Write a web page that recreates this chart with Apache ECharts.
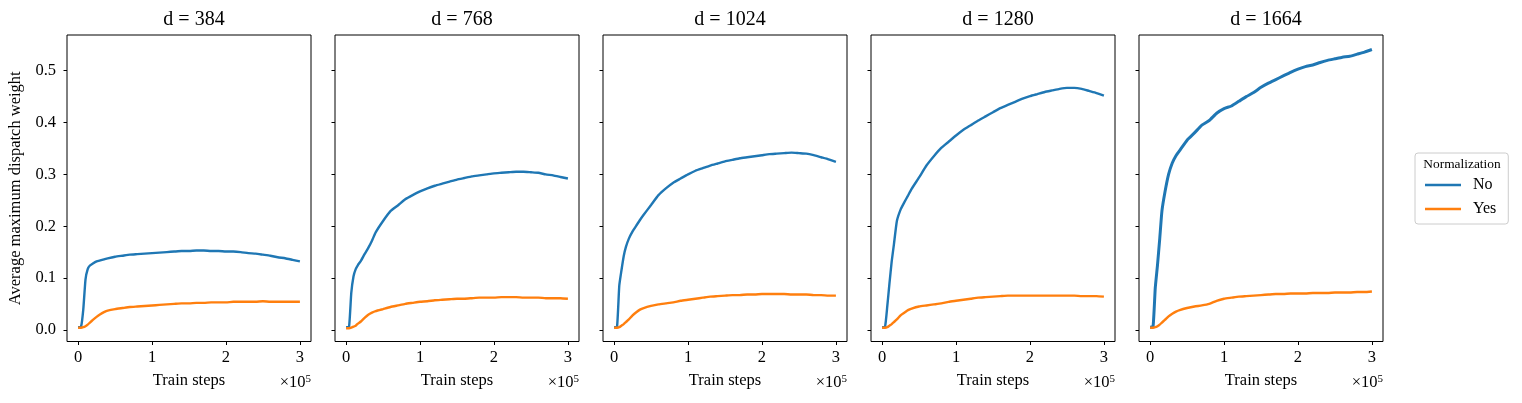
<!DOCTYPE html>
<html><head><meta charset="utf-8">
<script src="https://cdn.jsdelivr.net/npm/echarts@6/dist/echarts.min.js"></script>
<style>html,body{margin:0;padding:0;background:#fff}#c{width:1522px;height:403px}</style>
</head><body><div id="c"></div>
<script>
// Panel titles
const panelTitles = ['d = 384', 'd = 768', 'd = 1024', 'd = 1280', 'd = 1664'];
const seriesNames = ['No', 'Yes'];
// Train steps (in units of 1e5)
const steps = [0, 0.04, 0.07, 0.1, 0.13, 0.16, 0.2, 0.25, 0.3, 0.35, 0.4, 0.5, 0.6, 0.7, 0.8, 0.9, 1.0,
  1.1, 1.2, 1.3, 1.4, 1.5, 1.6, 1.7, 1.8, 1.9, 2.0, 2.1, 2.2, 2.3, 2.4, 2.5, 2.6, 2.7, 2.8, 2.9, 3.0];
const xTicks = [0, 1, 2, 3];
const yTicks = [0, 0.1, 0.2, 0.3, 0.4, 0.5];

// d = 384
const no384 = [0.005, 0.006, 0.039, 0.097, 0.117, 0.124, 0.128, 0.132, 0.134, 0.136, 0.138, 0.141, 0.143, 0.145, 0.146, 0.147, 0.148,
  0.149, 0.150, 0.151, 0.152, 0.152, 0.153, 0.153, 0.152, 0.152, 0.151, 0.151, 0.150, 0.148, 0.147, 0.145, 0.143, 0.140, 0.138, 0.135, 0.132];
const yes384 = [0.004, 0.004, 0.005, 0.007, 0.010, 0.014, 0.019, 0.025, 0.030, 0.034, 0.037, 0.040, 0.042, 0.044, 0.045, 0.046, 0.047,
  0.048, 0.049, 0.050, 0.051, 0.051, 0.052, 0.052, 0.053, 0.053, 0.053, 0.054, 0.054, 0.054, 0.054, 0.055, 0.054, 0.054, 0.054, 0.054, 0.054];
// d = 768
const no768 = [0.005, 0.006, 0.071, 0.103, 0.117, 0.125, 0.133, 0.146, 0.158, 0.172, 0.188, 0.210, 0.229, 0.240, 0.252, 0.260, 0.267,
  0.273, 0.278, 0.282, 0.286, 0.290, 0.293, 0.296, 0.298, 0.300, 0.302, 0.303, 0.304, 0.305, 0.305, 0.304, 0.303, 0.300, 0.298, 0.295, 0.292];
const yes768 = [0.003, 0.003, 0.004, 0.006, 0.008, 0.012, 0.016, 0.023, 0.029, 0.033, 0.036, 0.040, 0.044, 0.047, 0.050, 0.052, 0.054,
  0.055, 0.057, 0.058, 0.059, 0.060, 0.060, 0.061, 0.062, 0.062, 0.062, 0.063, 0.063, 0.063, 0.062, 0.062, 0.062, 0.061, 0.061, 0.061, 0.060];
// d = 1024
const no1024 = [0.005, 0.006, 0.085, 0.115, 0.142, 0.160, 0.176, 0.190, 0.201, 0.212, 0.222, 0.241, 0.260, 0.273, 0.284, 0.292, 0.300,
  0.307, 0.312, 0.317, 0.321, 0.325, 0.328, 0.331, 0.333, 0.335, 0.337, 0.339, 0.340, 0.341, 0.342, 0.341, 0.340, 0.337, 0.333, 0.329, 0.324];
const yes1024 = [0.004, 0.004, 0.005, 0.008, 0.011, 0.015, 0.020, 0.028, 0.034, 0.039, 0.042, 0.046, 0.049, 0.051, 0.053, 0.056, 0.058,
  0.060, 0.062, 0.064, 0.065, 0.066, 0.067, 0.067, 0.068, 0.068, 0.069, 0.069, 0.069, 0.069, 0.068, 0.068, 0.068, 0.067, 0.067, 0.066, 0.066];
// d = 1280
const no1280 = [0.005, 0.006, 0.045, 0.090, 0.132, 0.165, 0.210, 0.232, 0.246, 0.259, 0.272, 0.294, 0.317, 0.335, 0.351, 0.363, 0.375,
  0.386, 0.395, 0.404, 0.412, 0.420, 0.428, 0.434, 0.440, 0.446, 0.451, 0.455, 0.459, 0.462, 0.465, 0.467, 0.467, 0.465, 0.461, 0.457, 0.452];
const yes1280 = [0.004, 0.004, 0.005, 0.008, 0.011, 0.015, 0.020, 0.028, 0.033, 0.038, 0.041, 0.045, 0.047, 0.049, 0.051, 0.054, 0.056,
  0.058, 0.060, 0.062, 0.063, 0.064, 0.065, 0.066, 0.066, 0.066, 0.066, 0.066, 0.066, 0.066, 0.066, 0.066, 0.066, 0.065, 0.065, 0.065, 0.064];
// d = 1664
const no1664 = [0.005, 0.006, 0.081, 0.125, 0.175, 0.229, 0.265, 0.300, 0.322, 0.336, 0.346, 0.366, 0.380, 0.395, 0.404, 0.418, 0.427,
  0.432, 0.441, 0.450, 0.458, 0.468, 0.476, 0.483, 0.490, 0.497, 0.503, 0.508, 0.511, 0.516, 0.520, 0.523, 0.526, 0.528, 0.532, 0.536, 0.541];
const yes1664 = [0.004, 0.004, 0.005, 0.007, 0.010, 0.014, 0.019, 0.026, 0.031, 0.035, 0.038, 0.042, 0.045, 0.047, 0.050, 0.056, 0.060,
  0.062, 0.064, 0.065, 0.066, 0.067, 0.068, 0.069, 0.069, 0.070, 0.070, 0.070, 0.071, 0.071, 0.071, 0.072, 0.072, 0.072, 0.073, 0.073, 0.074];

const noSeries = [no384, no768, no1024, no1280, no1664];
const yesSeries = [yes384, yes768, yes1024, yes1280, yes1664];

const colors = ['#1f77b4', '#ff7f0e'];
const FONT = '"Liberation Serif", "DejaVu Serif", serif';
const lefts = [67, 335, 603, 871, 1139];
const W = 244, TOP = 35, H = 306.5;

const grids = [], xAxes = [], yAxes = [], series = [], titles = [], graphics = [];
panelTitles.forEach((t, k) => {
  grids.push({left: lefts[k], top: TOP, width: W, height: H, show: true, borderColor: '#000', borderWidth: 1, containLabel: false});
  titles.push({text: t, left: lefts[k] + W / 2, top: 5, textAlign: 'center',
    textStyle: {fontFamily: FONT, fontWeight: 'normal', fontSize: 20, color: '#000'}});
  xAxes.push({type: 'value', gridIndex: k, min: -0.15, max: 3.15, position: 'bottom',
    name: 'Train steps', nameLocation: 'middle', nameGap: 31,
    nameTextStyle: {fontFamily: FONT, fontSize: 16.5, color: '#000'},
    axisLine: {show: false, onZero: false}, splitLine: {show: false},
    axisTick: {show: true, inside: false, customValues: xTicks, length: 3.5, lineStyle: {color: '#000', width: 1}},
    axisLabel: {customValues: xTicks, margin: 8, fontFamily: FONT, fontSize: 16.5, color: '#000', formatter: v => String(v)}});
  yAxes.push({type: 'value', gridIndex: k, min: -0.0226, max: 0.569, position: 'left',
    name: k === 0 ? 'Average maximum dispatch weight' : '', nameLocation: 'middle', nameGap: 43,
    nameTextStyle: {fontFamily: FONT, fontSize: 16.5, color: '#000'},
    axisLine: {show: false, onZero: false}, splitLine: {show: false},
    axisTick: {show: true, inside: false, customValues: yTicks, length: 3.5, lineStyle: {color: '#000', width: 1}},
    axisLabel: {show: k === 0, customValues: yTicks, margin: 11, fontFamily: FONT, fontSize: 16.5, color: '#000',
      formatter: v => v.toFixed(1)}});
  [noSeries[k], yesSeries[k]].forEach((arr, j) => {
    series.push({type: 'line', name: seriesNames[j], xAxisIndex: k, yAxisIndex: k,
      data: steps.map((x, i) => [x, arr[i]]), showSymbol: false, symbol: 'none', smooth: 0.15,
      lineStyle: {color: colors[j], width: (j === 0 && k === 4) ? 3 : 2.4}, itemStyle: {color: colors[j]}, z: j === 0 ? 2 : 3});
  });
  graphics.push({type: 'text', x: lefts[k] + W, y: 374, style: {
    text: '×10{s|5}', fontFamily: FONT, fontSize: 16.5, fill: '#000', align: 'right',
    rich: {s: {fontFamily: FONT, fontSize: 11, verticalAlign: 'top', fill: '#000'}}}});
});
graphics.push({type: 'text', x: 1462, y: 158, z: 100, zlevel: 0, style: {text: 'Normalization', fontFamily: FONT, fontSize: 13.4, fill: '#000', align: 'center'}});

const chart = echarts.init(document.getElementById('c'), null, {renderer: 'canvas'});
chart.setOption({
  animation: false,
  backgroundColor: '#fff',
  title: titles,
  grid: grids, xAxis: xAxes, yAxis: yAxes, series: series,
  legend: {data: seriesNames, orient: 'vertical', left: 1415, top: 153, width: 94,
    padding: [24, 12, 7, 10], itemGap: 8, itemWidth: 36, itemHeight: 2.5, icon: 'rect',
    borderColor: '#cccccc', borderWidth: 1, borderRadius: 3,
    textStyle: {fontFamily: FONT, fontSize: 16, color: '#000', padding: [0, 0, 0, 7]}},
  graphic: {elements: graphics}
});
</script></body></html>
